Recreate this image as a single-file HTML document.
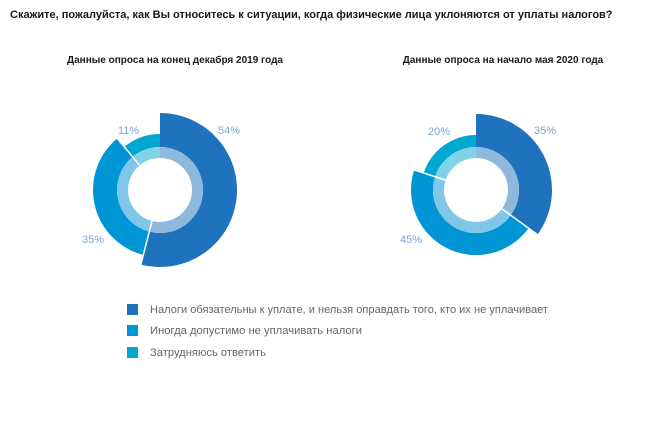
<!DOCTYPE html>
<html><head><meta charset="utf-8"><style>
body{margin:0;background:#fff;width:665px;height:442px;overflow:hidden;font-family:"Liberation Sans",sans-serif}
</style></head><body>
<svg id="s" width="665" height="442" xmlns="http://www.w3.org/2000/svg" font-family="Liberation Sans, sans-serif">
<text x="10" y="18" font-size="11" font-weight="bold" fill="#1a1a1a">Скажите, пожалуйста, как Вы относитесь к ситуации, когда физические лица уклоняются от уплаты налогов?</text>
<text x="175" y="63" font-size="10" font-weight="bold" fill="#1a1a1a" text-anchor="middle">Данные опроса на конец декабря 2019 года</text>
<text x="503" y="63" font-size="10" font-weight="bold" fill="#1a1a1a" text-anchor="middle">Данные опроса на начало мая 2020 года</text>
<g id="g"></g>
<g font-size="11" fill="#7aa6dc">
<text x="218" y="134">54%</text><text x="118" y="134">11%</text><text x="82" y="243">35%</text>
<text x="534" y="134">35%</text><text x="428" y="135">20%</text><text x="400" y="243">45%</text>
</g>
<rect x="127" y="304" width="11" height="11" fill="#1f72bd"/>
<rect x="127" y="325" width="11" height="11" fill="#0096d6"/>
<rect x="127" y="347" width="11" height="11" fill="#00a7d0"/>
<g font-size="11" fill="#666">
<text x="150" y="313" textLength="398" lengthAdjust="spacingAndGlyphs">Налоги обязательны к уплате, и нельзя оправдать того, кто их не уплачивает</text>
<text x="150" y="334" textLength="212" lengthAdjust="spacingAndGlyphs">Иногда допустимо не уплачивать налоги</text>
<text x="150" y="356" textLength="116" lengthAdjust="spacingAndGlyphs">Затрудняюсь ответить</text>
</g>
</svg>
<script>
function arc(cx,cy,r0,r1,a0,a1){
 function p(r,a){a=(a-90)*Math.PI/180;return (cx+r*Math.cos(a)).toFixed(2)+","+(cy+r*Math.sin(a)).toFixed(2)}
 var l=(a1-a0)>180?1:0;
 return "M"+p(r1,a0)+"A"+r1+","+r1+" 0 "+l+" 1 "+p(r1,a1)+"L"+p(r0,a1)+"A"+r0+","+r0+" 0 "+l+" 0 "+p(r0,a0)+"Z";
}
var g=document.getElementById("g"),h="";
function chart(cx,cy,vals,radii){
 var cols=["#1f72bd","#0096d6","#00a7d0"],lc=["#8fb8dd","#7fc6e8","#80d3e6"];
 var a=0;
 for(var i=0;i<3;i++){
  var b=a+vals[i]*3.6;
  h+='<path d="'+arc(cx,cy,43,radii[i],a,b)+'" fill="'+cols[i]+'"/>';
  h+='<path d="'+arc(cx,cy,32,43,a,b)+'" fill="'+lc[i]+'"/>';
  a=b;
 }
 a=0;
 for(var i=0;i<3;i++){
  var r=(a-90)*Math.PI/180;
  h+='<line x1="'+(cx+32*Math.cos(r))+'" y1="'+(cy+32*Math.sin(r))+'" x2="'+(cx+80*Math.cos(r))+'" y2="'+(cy+80*Math.sin(r))+'" stroke="#fff" stroke-width="'+(i==0?0:1.5)+'"/>';
  a+=vals[i]*3.6;
 }
}
chart(160,190,[54,35,11],[77,67,56]);
chart(476,190,[35,45,20],[76,65,55]);
g.innerHTML=h;
</script>
</body></html>
